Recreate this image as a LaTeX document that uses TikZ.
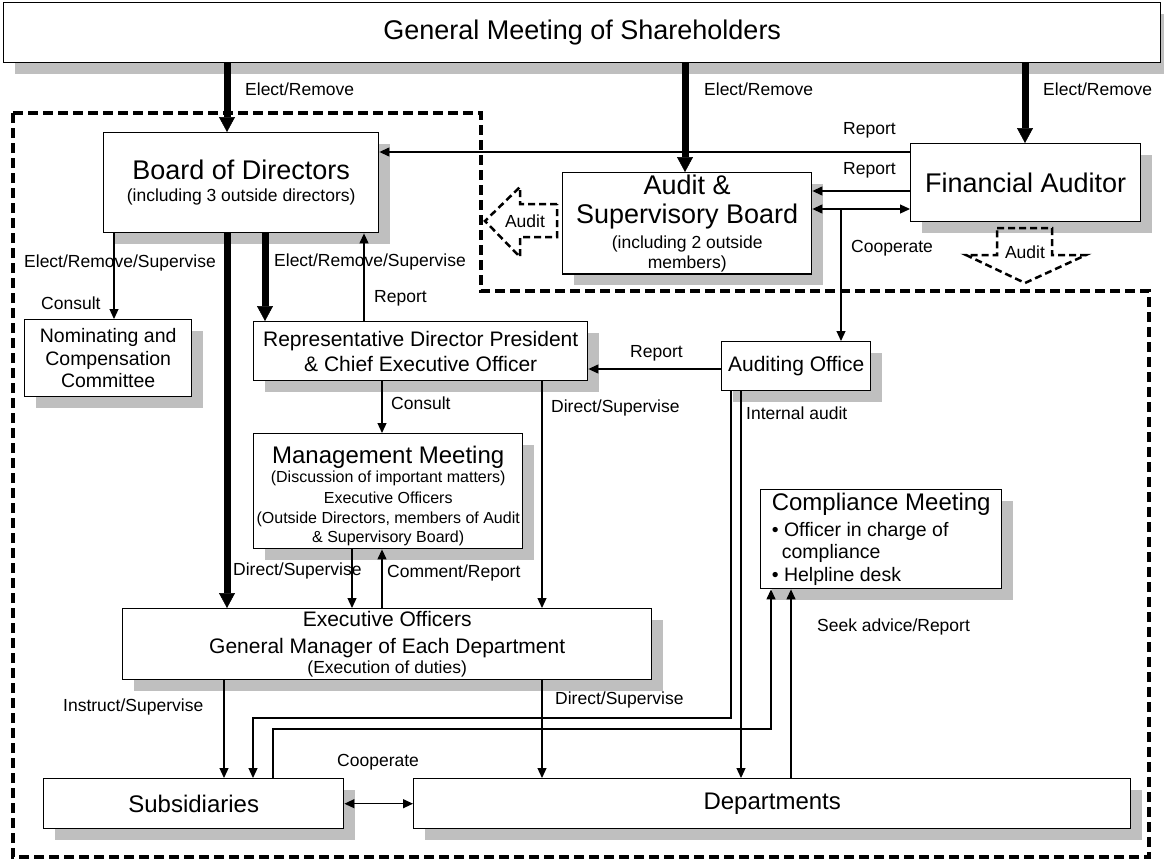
\documentclass[tikz,border=0pt]{standalone}
\usepackage{fontspec}
\setmainfont{Liberation Sans}
\usetikzlibrary{arrows.meta,shadows}
\newcommand\fzL{\fontsize{27}{29}\selectfont}
\newcommand\fzMM{\fontsize{24}{27}\selectfont}
\newcommand\fzM{\fontsize{21}{25}\selectfont}
\newcommand\fzN{\fontsize{19.5}{22.5}\selectfont}
\newcommand\fzE{\fontsize{17.5}{20}\selectfont}
\newcommand\fzT{\fontsize{16}{20}\selectfont}
\newcommand\fzS{\fontsize{17.5}{20}\selectfont}
\tikzset{
  box/.style={draw=black, line width=1.4pt, fill=white, anchor=north west, inner sep=2pt, align=center,
    drop shadow={shadow xshift=11pt, shadow yshift=-11pt, fill=black!25, opacity=1}},
  lbl/.style={anchor=west, inner sep=0pt, font=\fzS},
  arr/.style={line width=1.2pt, -{Triangle[length=10pt,width=9pt]}},
  darr/.style={line width=1.2pt, {Triangle[length=10pt,width=9pt]}-{Triangle[length=10pt,width=9pt]}},
  tarr/.style={line width=7pt, -{Triangle[length=15pt,width=16pt,line width=0.5pt]}},
  bound/.style={line width=3.2pt, dash pattern=on 10pt off 5pt},
  auditarrow/.style={line width=2.5pt, dash pattern=on 7pt off 4pt, line join=miter},
}
\begin{document}
\begin{tikzpicture}[x=1pt,y=-1pt]
\fill[white] (0,0) rectangle (1164,859);
\useasboundingbox (0,0) rectangle (1164,859);

% dashed boundary
\draw[bound] (13,113) -- (481,113) -- (481,291) -- (1149,291) -- (1149,857) -- (13,857) -- cycle;

% boxes
\node[box, minimum width=1157pt, minimum height=60pt, font=\fzL] (gm) at (3,2) {General Meeting of Shareholders};
\node[box, minimum width=275pt, minimum height=100pt, font=\fontsize{18}{22}\selectfont] (bod) at (103,132)
  {\fzL Board of Directors\\\fzS (including 3 outside directors)};
\node[box, minimum width=249pt, minimum height=98pt, font=\fontsize{18}{20}\selectfont] (asb) at (562,172)
  {\fzL Audit \&\\[9pt]\fzL Supervisory Board\\[5pt]\fzS (including 2 outside\\\fzS members)};
\node[box, minimum width=230pt, minimum height=78pt, font=\fzL] (fa) at (910,143) {Financial Auditor};
\node[box, minimum width=167pt, minimum height=77pt, font=\fzN] (ncc) at (24,319)
  {Nominating and\\Compensation\\Committee};
\node[box, minimum width=334pt, minimum height=59pt, font=\fzM] (rep) at (253,321)
  {Representative Director President\\\& Chief Executive Officer};
\node[box, minimum width=149pt, minimum height=49pt, font=\fzM] (ao) at (721,341) {Auditing Office};
\node[box, minimum width=269pt, minimum height=115pt, font=\fzT] (mm) at (253,433)
  {\fzMM\rule{0pt}{27.5pt}Management Meeting\\[-1pt](Discussion of important matters)\\[1pt]Executive Officers\\(Outside Directors, members of Audit\\[-1pt]\& Supervisory Board)};
\node[box, minimum width=241pt, minimum height=99pt, align=left, font=\fzN] (cm) at (760,489)
  {\fzMM Compliance Meeting\\[3.5pt]•\ Officer in charge of\\\hspace*{10pt}compliance\\•\ Helpline desk};
\node[box, minimum width=529pt, minimum height=71pt, font=\fzE] (exe) at (122,608)
  {\fzM Executive Officers\\[7pt]\fzM General Manager of Each Department\\(Execution of duties)};
\node[box, minimum width=300pt, minimum height=50pt, font=\fzMM] (sub) at (43,778) {Subsidiaries};
\node[box, minimum width=717pt, minimum height=50pt, font=\fzMM] (dep) at (413,778) {Departments};

% dashed audit arrows
\draw[auditarrow] (557,204) -- (520,204) -- (520,187) -- (485,221) -- (520,257) -- (520,237) -- (557,237) -- cycle;
\node[inner sep=0pt, font=\fzS] (audl) at (525,221) {Audit};
\draw[auditarrow] (997,228) -- (1052,228) -- (1052,255) -- (1086,255) -- (1025,283) -- (966,255) -- (997,255) -- cycle;
\node[inner sep=0pt, font=\fzS] (audd) at (1025,252) {Audit};

% thick arrows
\draw[tarr] (gm.south -| 227,0) -- (bod.north -| 227,0);
\draw[tarr] (gm.south -| 685,0) -- (asb.north -| 685,0);
\draw[tarr] (gm.south -| 1025,0) -- (fa.north -| 1025,0);
\draw[tarr] (bod.south -| 227,0) -- (exe.north -| 227,0);
\draw[tarr] (bod.south -| 265,0) -- (rep.north -| 265,0);

% thin arrows
\draw[arr] (fa.west |- 0,152) -- (bod.east |- 0,152);
\draw[arr] (fa.west |- 0,191) -- (asb.east |- 0,191);
\draw[darr] (asb.east |- 0,209) -- (fa.west |- 0,209);
\coordinate (cp) at (841,209);
\draw[arr] (cp) -- (ao.north -| cp);
\draw[arr] (bod.south -| 114,0) -- (ncc.north -| 114,0);
\draw[arr] (rep.north -| 364,0) -- (bod.south -| 364,0);
\draw[arr] (ao.west |- 0,369) -- (rep.east |- 0,369);
\draw[arr] (rep.south -| 382,0) -- (mm.north -| 382,0);
\draw[arr] (rep.south -| 542,0) -- (exe.north -| 542,0);
\draw[arr] (mm.south -| 352,0) -- (exe.north -| 352,0);
\draw[arr] (exe.north -| 382,0) -- (mm.south -| 382,0);
\draw[arr] (exe.south -| 224,0) -- (sub.north -| 224,0);
\draw[arr] (exe.south -| 542,0) -- (dep.north -| 542,0);
\draw[darr] (sub.east) -- (dep.west);
\draw[arr] (ao.south -| 731,0) -- (731,718) -| (sub.north -| 253,0);
\draw[arr] (ao.south -| 741,0) -- (dep.north -| 741,0);
\draw[arr] (sub.north -| 273,0) |- (771,729) -- (cm.south -| 771,0);
\draw[arr] (dep.north -| 791,0) -- (cm.south -| 791,0);

% labels
\node[lbl] (e1) at (245,89) {Elect/Remove};
\node[lbl] (e2) at (704,89) {Elect/Remove};
\node[lbl] (e3) at (1043,89) {Elect/Remove};
\node[lbl] (r1) at (843,130) {Report};
\node[lbl] (r2) at (843,170) {Report};
\node[lbl] (c1) at (851,248) {Cooperate};
\node[lbl] (ers1) at (24,263) {Elect/Remove/Supervise};
\node[lbl] (ers2) at (274,262) {Elect/Remove/Supervise};
\node[lbl] (cs1) at (41,303) {Consult};
\node[lbl] (r3) at (374,298) {Report};
\node[lbl] (r4) at (630,353) {Report};
\node[lbl] (cs2) at (391,403) {Consult};
\node[lbl] (ds1) at (551,408) {Direct/Supervise};
\node[lbl] (ia) at (746,413) {Internal audit};
\node[lbl] (ds2) at (233,571) {Direct/Supervise};
\node[lbl] (cr) at (387,573) {Comment/Report};
\node[lbl] (sa) at (817,627) {Seek advice/Report};
\node[lbl] (is) at (63,707) {Instruct/Supervise};
\node[lbl] (ds3) at (555,700) {Direct/Supervise};
\node[lbl] (c2) at (337,762) {Cooperate};
\end{tikzpicture}
\end{document}
